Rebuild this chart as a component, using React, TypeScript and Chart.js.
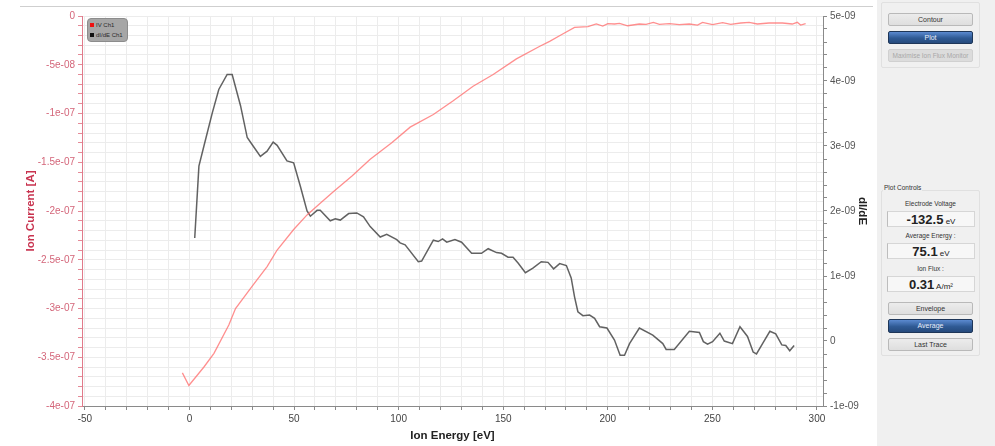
import React, { useEffect, useRef } from 'react';
import { Chart, registerables } from 'chart.js';

Chart.register(...registerables);

// IV curve (left axis) – energy [eV], current [A]
const ivEnergy = [
  -3.4, -0.3, 6.9, 11.7, 18.8, 22.0, 30.0, 37.1, 41.9, 49.8, 56.2, 62.5, 68.9, 77.7, 86.4, 96.7,
  105.5, 116.6, 126.1, 135.6, 145.2, 156.3, 167.5, 172.2, 178.0, 184.1, 190.5, 194.5, 197.6, 200.0,
  203.2, 205.6, 209.5, 215.1, 218.3, 221.8, 224.7, 229.4, 234.2, 239.0, 242.9, 245.3, 250.1, 254.9,
  258.8, 263.6, 267.6, 271.5, 277.1, 283.5, 288.2, 290.6, 292.2, 294.6,
];
const ivCurrent = [
  -3.66e-7, -3.79e-7, -3.6e-7, -3.46e-7, -3.17e-7, -3.0e-7, -2.77e-7, -2.57e-7, -2.4e-7, -2.19e-7,
  -2.04e-7, -1.92e-7, -1.8e-7, -1.64e-7, -1.47e-7, -1.3e-7, -1.14e-7, -1.01e-7, -0.87e-7, -0.72e-7,
  -0.6e-7, -0.44e-7, -0.31e-7, -0.26e-7, -0.19e-7, -1.16e-8, -1.1e-8, -0.82e-8, -1.03e-8, -0.79e-8,
  -0.82e-8, -0.75e-8, -1.0e-8, -0.82e-8, -0.86e-8, -0.65e-8, -0.86e-8, -0.79e-8, -0.89e-8, -0.82e-8,
  -0.93e-8, -0.65e-8, -0.89e-8, -0.69e-8, -0.86e-8, -0.72e-8, -0.65e-8, -0.82e-8, -0.72e-8, -0.72e-8,
  -0.82e-8, -0.65e-8, -0.93e-8, -0.79e-8,
];

// dI/dE curve (right axis)
const didEnergy = [
  2.5, 4.5, 6.9, 10.9, 14.0, 18.0, 20.4, 24.4, 27.6, 30.0, 33.9, 37.1, 40.0, 41.9, 46.6, 49.8, 53.0,
  56.2, 57.8, 61.0, 62.5, 67.3, 69.7, 72.1, 76.1, 80.0, 83.2, 86.4, 91.2, 94.3, 99.1, 100.7, 103.1,
  109.4, 111.0, 116.6, 118.9, 121.0, 123.0, 126.9, 130.1, 134.9, 139.6, 142.8, 146.8, 149.2, 152.3,
  154.7, 157.1, 160.6, 164.2, 168.2, 171.4, 174.1, 177.0, 180.2, 182.5, 184.1, 185.7, 188.1, 191.3,
  193.7, 196.1, 199.6, 203.2, 205.9, 208.0, 210.4, 215.1, 221.5, 226.3, 227.9, 231.8, 239.0, 243.8,
  245.7, 247.7, 250.1, 253.6, 255.7, 259.6, 263.2, 266.8, 269.5, 271.1, 274.0, 277.5, 280.3, 283.2,
  285.1, 287.0, 289.1,
];
const didValue = [
  1.585e-9, 2.69e-9, 3.0e-9, 3.51e-9, 3.87e-9, 4.1e-9, 4.1e-9, 3.62e-9, 3.13e-9, 3.02e-9, 2.84e-9,
  2.92e-9, 3.06e-9, 3.01e-9, 2.77e-9, 2.74e-9, 2.38e-9, 2.0e-9, 1.92e-9, 2.01e-9, 2.01e-9, 1.85e-9,
  1.88e-9, 1.86e-9, 1.96e-9, 1.97e-9, 1.91e-9, 1.76e-9, 1.6e-9, 1.64e-9, 1.56e-9, 1.51e-9, 1.48e-9,
  1.22e-9, 1.23e-9, 1.55e-9, 1.53e-9, 1.57e-9, 1.52e-9, 1.56e-9, 1.52e-9, 1.35e-9, 1.35e-9, 1.42e-9,
  1.36e-9, 1.35e-9, 1.29e-9, 1.29e-9, 1.2e-9, 1.05e-9, 1.12e-9, 1.22e-9, 1.21e-9, 1.11e-9, 1.19e-9,
  1.16e-9, 0.97e-9, 0.68e-9, 0.45e-9, 0.39e-9, 0.4e-9, 0.35e-9, 0.22e-9, 0.2e-9, 0.015e-9, -0.22e-9,
  -0.22e-9, -0.04e-9, 0.2e-9, 0.09e-9, -0.04e-9, -0.13e-9, -0.13e-9, 0.15e-9, 0.13e-9, -0.01e-9,
  -0.05e-9, -0.01e-9, 0.12e-9, 0.0, -0.04e-9, 0.22e-9, 0.07e-9, -0.17e-9, -0.2e-9, -0.04e-9, 0.15e-9,
  0.11e-9, -0.06e-9, -0.07e-9, -0.15e-9, -0.07e-9,
];

const xMajorLabels = ['-50', '0', '50', '100', '150', '200', '250', '300'];
const leftMajorLabels = ['0', '-5e-08', '-1e-07', '-1.5e-07', '-2e-07', '-2.5e-07', '-3e-07', '-3.5e-07', '-4e-07'];
const rightMajorLabels = ['5e-09', '4e-09', '3e-09', '2e-09', '1e-09', '0', '-1e-09'];

const FONT = '"Liberation Sans", Arial, sans-serif';

function PlotChart() {
  const ref = useRef<HTMLCanvasElement>(null);
  useEffect(() => {
    if (!ref.current) return;
    const xTicks: number[] = [];
    for (let v = -50; v <= 300; v += 10) xTicks.push(v);
    const yTicks: number[] = [];
    for (let i = 40; i >= 0; i--) yTicks.push(-i * 1e-8);
    const y1Ticks: number[] = [];
    for (let j = -5; j <= 25; j++) y1Ticks.push(j * 2e-10);

    const chart = new Chart(ref.current, {
      type: 'line',
      data: {
        datasets: [
          {
            label: 'IV Ch1',
            data: ivEnergy.map((e, i) => ({ x: e, y: ivCurrent[i] })),
            yAxisID: 'y',
            borderColor: 'rgba(255,105,105,0.75)',
            borderWidth: 1.3,
            pointRadius: 0,
            tension: 0,
          },
          {
            label: 'dI/dE Ch1',
            data: didEnergy.map((e, i) => ({ x: e, y: didValue[i] })),
            yAxisID: 'y1',
            borderColor: 'rgba(70,70,70,0.85)',
            borderWidth: 1.5,
            pointRadius: 0,
            tension: 0,
          },
        ],
      },
      options: {
        responsive: false,
        animation: false,
        layout: { padding: { left: 20, top: 16, right: 0, bottom: 0 } },
        plugins: { legend: { display: false }, tooltip: { enabled: false } },
        scales: {
          x: {
            type: 'linear',
            position: 'bottom',
            min: -51.4,
            max: 302.9,
            afterBuildTicks: (s: any) => {
              s.ticks = xTicks.map((v) => ({ value: v }));
            },
            afterFit: (s: any) => {
              s.height = 40;
            },
            ticks: {
              autoSkip: false,
              maxRotation: 0,
              padding: 3,
              color: '#444',
              font: { family: FONT, size: 10 },
              callback: (v: any) => {
                const n = Math.round((Number(v) + 50) / 50);
                return Math.abs(Number(v) + 50 - n * 50) < 1e-6 ? xMajorLabels[n] : '';
              },
            },
            grid: { color: '#ececec', tickColor: '#8a8a8a', tickLength: 4 },
            border: { color: '#8a8a8a' },
            title: {
              display: true,
              text: 'Ion Energy [eV]',
              color: '#222',
              font: { family: FONT, size: 11.5, weight: 'bold' },
              padding: { top: 2, bottom: 3 },
            },
          },
          y: {
            type: 'linear',
            position: 'left',
            min: -4e-7,
            max: 0,
            afterBuildTicks: (s: any) => {
              s.ticks = yTicks.map((v) => ({ value: v }));
            },
            afterFit: (s: any) => {
              s.width = 62;
            },
            ticks: {
              autoSkip: false,
              padding: 3,
              color: '#d4667a',
              font: { family: FONT, size: 10 },
              callback: (v: any) => {
                const i = Math.round(-Number(v) / 1e-8);
                return i % 5 === 0 ? leftMajorLabels[i / 5] : '';
              },
            },
            grid: { color: '#ececec', tickColor: '#e58a98', tickLength: 4 },
            border: { color: '#e07a8a' },
            title: {
              display: true,
              text: 'Ion Current [A]',
              color: '#c8334f',
              font: { family: FONT, size: 11.5, weight: 'bold' },
              padding: { top: 4, bottom: 4 },
            },
          },
          y1: {
            type: 'linear',
            position: 'right',
            min: -1e-9,
            max: 5e-9,
            afterBuildTicks: (s: any) => {
              s.ticks = y1Ticks.map((v) => ({ value: v }));
            },
            afterFit: (s: any) => {
              s.width = 50;
            },
            ticks: {
              autoSkip: false,
              padding: 3,
              color: '#555',
              font: { family: FONT, size: 10 },
              callback: (v: any) => {
                const j = Math.round(Number(v) / 2e-10);
                return j % 5 === 0 ? rightMajorLabels[(25 - j) / 5] : '';
              },
            },
            grid: { drawOnChartArea: false, tickColor: '#8a8a8a', tickLength: 4 },
            border: { color: '#8a8a8a' },
            title: {
              display: true,
              text: 'dI/dE',
              color: '#222',
              font: { family: FONT, size: 11.5, weight: 'bold' },
              padding: { top: 4, bottom: 4 },
            },
          },
        },
      },
    });
    return () => chart.destroy();
  }, []);
  return <canvas ref={ref} width={873} height={446} style={{ width: 873, height: 446, display: 'block' }} />;
}

const btn = (top: number, h: number): React.CSSProperties => ({
  position: 'absolute',
  left: 11,
  top,
  width: 85,
  height: h,
  boxSizing: 'border-box',
  background: 'linear-gradient(#ececec, #dedede)',
  border: '1px solid #b9b9b9',
  borderRadius: 2,
  fontSize: 7,
  color: '#333',
  textAlign: 'center',
  lineHeight: `${h - 2}px`,
});
const blueBtn = (top: number, h: number): React.CSSProperties => ({
  ...btn(top, h),
  background: 'linear-gradient(#5b8ad0, #2f5a94 55%, #264a7c)',
  border: '1px solid #1e3658',
  color: '#e8eefa',
});
const label = (top: number): React.CSSProperties => ({
  position: 'absolute',
  left: 4,
  top,
  width: 99,
  textAlign: 'center',
  fontSize: 6.5,
  color: '#333',
});
const valBox = (top: number, h: number): React.CSSProperties => ({
  position: 'absolute',
  left: 10,
  top,
  width: 88,
  height: h,
  boxSizing: 'border-box',
  background: '#f7f7f7',
  border: '1px solid #d6d6d6',
  borderLeft: '1px solid #bdbdbd',
  textAlign: 'center',
  lineHeight: `${h - 2}px`,
  color: '#222',
});

function Panel() {
  return (
    <div
      style={{
        position: 'absolute',
        left: 877,
        top: 0,
        width: 118,
        height: 446,
        background: '#f0f0f0',
        fontFamily: FONT,
      }}
    >
      <div style={{ position: 'absolute', left: 4, top: 2, width: 99, height: 66, boxSizing: 'border-box', border: '1px solid #e0e0e0', borderRadius: 2 }} />
      <div style={btn(13, 13)}>Contour</div>
      <div style={blueBtn(31, 13)}>Plot</div>
      <div style={{ ...btn(49, 13), color: '#a8a8a8', background: '#dcdcdc', border: '1px solid #d0d0d0', fontSize: 6.5 }}>Maximise Ion Flux Monitor</div>

      <div style={{ position: 'absolute', left: 4, top: 190, width: 99, height: 166, boxSizing: 'border-box', border: '1px solid #e0e0e0', borderRadius: 2 }} />
      <div style={{ position: 'absolute', left: 6, top: 184, fontSize: 6.5, color: '#333', background: '#f0f0f0', padding: '0 1px' }}>Plot Controls</div>
      <div style={label(200)}>Electrode Voltage</div>
      <div style={valBox(211, 16)}>
        <span style={{ fontSize: 13, fontWeight: 'bold' }}>-132.5</span>
        <span style={{ fontSize: 8 }}> eV</span>
      </div>
      <div style={label(232)}>Average Energy :</div>
      <div style={valBox(243, 16)}>
        <span style={{ fontSize: 13, fontWeight: 'bold' }}>75.1</span>
        <span style={{ fontSize: 8 }}> eV</span>
      </div>
      <div style={label(265)}>Ion Flux :</div>
      <div style={valBox(276, 16)}>
        <span style={{ fontSize: 13, fontWeight: 'bold' }}>0.31</span>
        <span style={{ fontSize: 8 }}> A/m²</span>
      </div>
      <div style={btn(302, 13)}>Envelope</div>
      <div style={blueBtn(319, 14)}>Average</div>
      <div style={btn(338, 13)}>Last Trace</div>
    </div>
  );
}

export default function App() {
  return (
    <div style={{ position: 'fixed', left: 0, top: 0, width: 995, height: 446, background: '#fff', overflow: 'hidden' }}>
      <div style={{ position: 'absolute', left: 0, top: 0 }}>
        <PlotChart />
      </div>
      <div style={{ position: 'absolute', left: 20, top: 6, width: 853, height: 1, background: '#cfcfcf' }} />
      <div
        style={{
          position: 'absolute',
          left: 87,
          top: 18,
          width: 41,
          height: 24,
          boxSizing: 'border-box',
          background: '#a6a6a6',
          border: '1px solid #8c8c8c',
          borderRadius: 4,
          fontFamily: FONT,
          fontSize: 6,
          color: '#2a2a2a',
        }}
      >
        <div style={{ position: 'absolute', left: 2, top: 4, width: 4, height: 4, background: '#ee1111' }} />
        <div style={{ position: 'absolute', left: 8, top: 2, lineHeight: '8px', whiteSpace: 'nowrap' }}>IV Ch1</div>
        <div style={{ position: 'absolute', left: 2, top: 14, width: 4, height: 4, background: '#111' }} />
        <div style={{ position: 'absolute', left: 8, top: 12, lineHeight: '8px', whiteSpace: 'nowrap' }}>dI/dE Ch1</div>
      </div>
      <Panel />
    </div>
  );
}
